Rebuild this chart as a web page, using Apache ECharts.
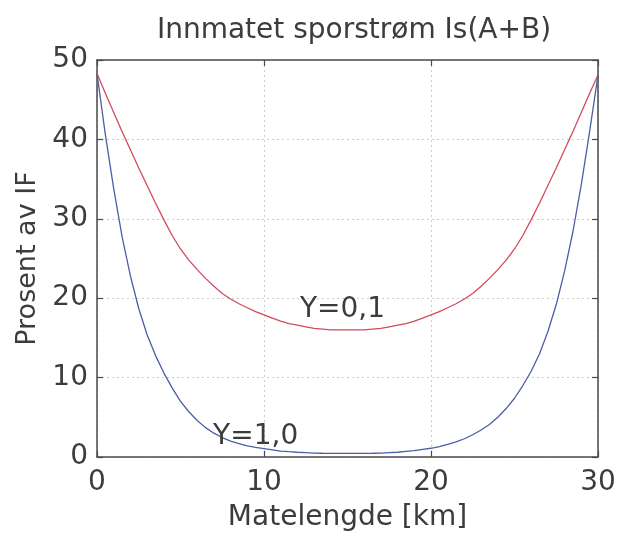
<!DOCTYPE html>
<html>
<head>
<meta charset="utf-8">
<script src="https://cdn.jsdelivr.net/npm/echarts@6/dist/echarts.min.js"></script>
<style>
  html, body { margin: 0; padding: 0; background: #ffffff; }
  #chart { width: 636px; height: 542px; }
</style>
</head>
<body>
<div id="chart"></div>
<script>
// Feeder position along the section, km
const distanceKm = [
  0, 0.5, 1, 1.5, 2, 2.5, 3, 3.5, 4, 4.5, 5, 5.5, 6, 6.5, 7, 7.5, 8, 8.5, 9, 9.5,
  10, 10.5, 11, 11.5, 12, 12.5, 13, 13.5, 14, 14.5, 15, 15.5, 16, 16.5, 17, 17.5, 18, 18.5, 19, 19.5,
  20, 20.5, 21, 21.5, 22, 22.5, 23, 23.5, 24, 24.5, 25, 25.5, 26, 26.5, 27, 27.5, 28, 28.5, 29, 29.5, 30];

// Fed-in track current, percent of IF, for Y = 0,1
const pctY01 = [
  48.3, 45.8, 43.4, 41.0, 38.7, 36.4, 34.2, 32.0, 29.9, 27.9, 26.2, 24.8, 23.6, 22.5, 21.5, 20.6, 19.9, 19.3, 18.8, 18.3,
  17.9, 17.5, 17.1, 16.8, 16.6, 16.4, 16.2, 16.1, 16.0, 16.0, 16.0, 16.0, 16.0, 16.1, 16.2, 16.4, 16.6, 16.8, 17.1, 17.5,
  17.9, 18.3, 18.8, 19.3, 19.9, 20.6, 21.5, 22.5, 23.6, 24.8, 26.2, 27.9, 29.9, 32.0, 34.2, 36.4, 38.7, 41.0, 43.4, 45.8, 48.1];

// Fed-in track current, percent of IF, for Y = 1,0
const pctY10 = [
  48.3, 40.6, 33.8, 27.8, 22.8, 18.7, 15.4, 12.8, 10.6, 8.7, 7.0, 5.7, 4.6, 3.7, 3.0, 2.45, 2.0, 1.7, 1.4, 1.2,
  1.05, 0.9, 0.75, 0.67, 0.6, 0.55, 0.5, 0.47, 0.45, 0.45, 0.45, 0.45, 0.45, 0.47, 0.5, 0.55, 0.6, 0.7, 0.8, 0.95,
  1.1, 1.3, 1.6, 1.9, 2.3, 2.8, 3.4, 4.1, 5.0, 6.1, 7.4, 9.0, 10.8, 13.0, 15.8, 19.2, 23.4, 28.4, 34.3, 41.0, 48.1];

// Curve annotations (text and anchor in data units)
const curveLabels = ['Y=0,1', 'Y=1,0'];
const labelKm = [14.7, 9.5];
const labelPct = [18.6, 2.6];

const FONT = 'DejaVu Sans';
const TEXT = '#3c3c3c';
const FRAME = '#4a4a4a';

const pairs = (xs, ys) => xs.map((x, i) => [x, ys[i]]);

const tickLabel = { fontFamily: FONT, fontSize: 28, color: TEXT };

const chart = echarts.init(document.getElementById('chart'), null, { renderer: 'canvas' });

chart.setOption({
  animation: false,
  backgroundColor: '#ffffff',
  title: {
    text: 'Innmatet sporstrøm Is(A+B)',
    left: 349,
    textAlign: 'center',
    top: 12,
    textStyle: { fontFamily: FONT, fontSize: 28, fontWeight: 'normal', color: TEXT }
  },
  grid: { left: 97, right: 38, top: 60, bottom: 85, containLabel: false },
  xAxis: [
    {
      type: 'value', min: 0, max: 30, interval: 10, position: 'bottom',
      name: 'Matelengde [km]', nameLocation: 'middle', nameGap: 47,
      nameTextStyle: { fontFamily: FONT, fontSize: 28, color: TEXT },
      axisLine: { show: true, onZero: false, lineStyle: { color: FRAME, width: 1.5 } },
      axisTick: { show: true, inside: true, length: 6, lineStyle: { color: FRAME, width: 1.2 } },
      axisLabel: Object.assign({ margin: 12 }, tickLabel),
      splitLine: { show: true, lineStyle: { color: '#cccccc', type: [2, 3], width: 1 } }
    },
    {
      type: 'value', min: 0, max: 30, interval: 10, position: 'top',
      axisLine: { show: true, onZero: false, lineStyle: { color: FRAME, width: 1.5 } },
      axisTick: { show: true, inside: true, length: 6, lineStyle: { color: FRAME, width: 1.2 } },
      axisLabel: { show: false },
      splitLine: { show: false }
    }
  ],
  yAxis: [
    {
      type: 'value', min: 0, max: 50, interval: 10, position: 'left',
      name: 'Prosent av IF', nameLocation: 'middle', nameGap: 53,
      nameTextStyle: { fontFamily: FONT, fontSize: 27, color: TEXT },
      axisLine: { show: true, onZero: false, lineStyle: { color: FRAME, width: 1.5 } },
      axisTick: { show: true, inside: true, length: 6, lineStyle: { color: FRAME, width: 1.2 } },
      axisLabel: Object.assign({ margin: 9 }, tickLabel),
      splitLine: { show: true, lineStyle: { color: '#cccccc', type: [2, 3], width: 1 } }
    },
    {
      type: 'value', min: 0, max: 50, interval: 10, position: 'right',
      axisLine: { show: true, onZero: false, lineStyle: { color: FRAME, width: 1.5 } },
      axisTick: { show: true, inside: true, length: 6, lineStyle: { color: FRAME, width: 1.2 } },
      axisLabel: { show: false },
      splitLine: { show: false }
    }
  ],
  series: [
    {
      name: 'Y=0,1', type: 'line', xAxisIndex: 0, yAxisIndex: 0,
      data: pairs(distanceKm, pctY01),
      smooth: false, showSymbol: false, symbol: 'none',
      lineStyle: { color: '#d24a5c', width: 1.3 },
      markPoint: {
        symbol: 'circle', symbolSize: 0,
        label: { show: true, position: 'inside', formatter: curveLabels[0],
                 fontFamily: FONT, fontSize: 28, color: TEXT },
        data: [{ coord: [labelKm[0], labelPct[0]] }]
      }
    },
    {
      name: 'Y=1,0', type: 'line', xAxisIndex: 0, yAxisIndex: 0,
      data: pairs(distanceKm, pctY10),
      smooth: false, showSymbol: false, symbol: 'none',
      lineStyle: { color: '#4b5ea6', width: 1.3 },
      markPoint: {
        symbol: 'circle', symbolSize: 0,
        label: { show: true, position: 'inside', formatter: curveLabels[1],
                 fontFamily: FONT, fontSize: 28, color: TEXT },
        data: [{ coord: [labelKm[1], labelPct[1]] }]
      }
    }
  ]
});
</script>
</body>
</html>
